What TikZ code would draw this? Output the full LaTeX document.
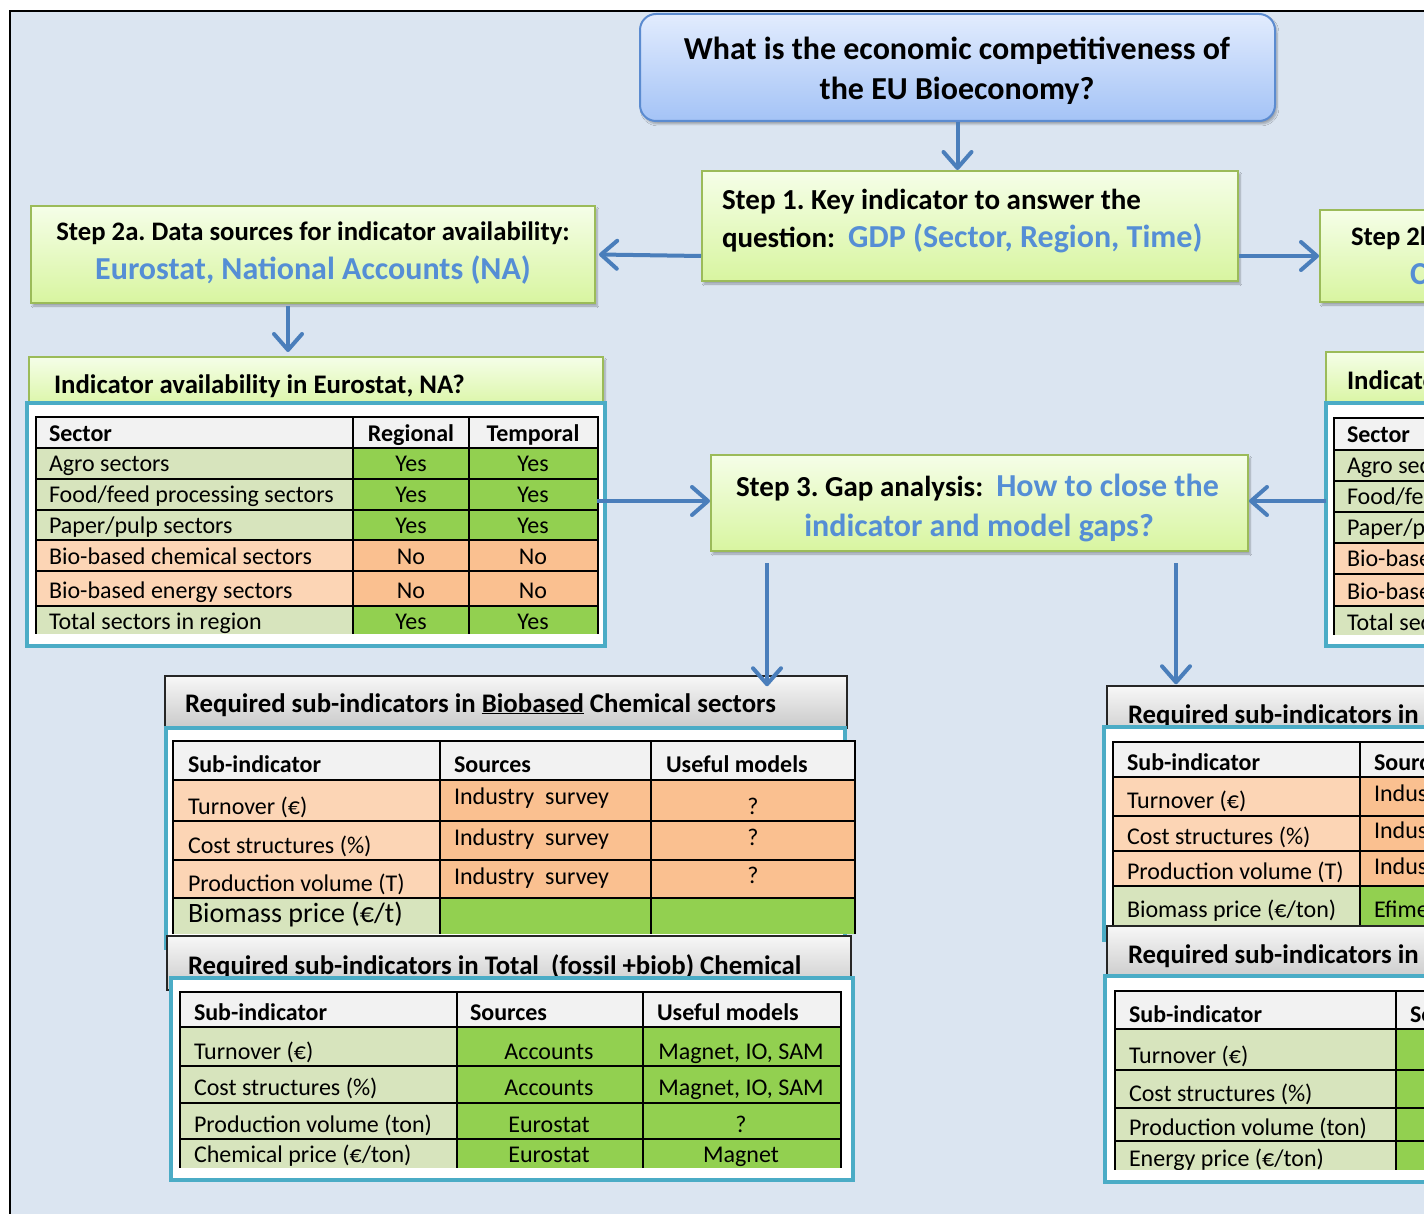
\documentclass[tikz,border=0pt]{standalone}
\usepackage{fontspec}
\setmainfont{Carlito}
\frenchspacing
\usetikzlibrary{arrows.meta,shadows.blur,calc}
\definecolor{bgblue}{HTML}{DBE5F1}
\definecolor{arrblue}{HTML}{4A7EBB}
\definecolor{txtblue}{HTML}{558ED5}
\definecolor{frameteal}{HTML}{4BACC6}
\definecolor{grnborder}{HTML}{9BBB59}
\definecolor{grntop}{HTML}{F5FEE8}
\definecolor{grnbot}{HTML}{D8F5A0}
\definecolor{qtop}{HTML}{E2ECFE}
\definecolor{qbot}{HTML}{A4C3F6}
\definecolor{qborder}{HTML}{5B8BD0}
\definecolor{lgreen}{HTML}{D7E4BD}
\definecolor{bgreen}{HTML}{92D050}
\definecolor{lorange}{HTML}{FCD5B5}
\definecolor{dorange}{HTML}{FAC090}
\definecolor{hdrgray}{HTML}{F2F2F2}
\definecolor{gtop}{HTML}{F7F7F7}
\definecolor{gbot}{HTML}{CACACA}
\newcommand\tabf{\fontsize{24}{28}\selectfont}
\newcommand\hdrf{\fontsize{26.8}{32}\selectfont\bfseries}
\newcommand\stepf{\fontsize{29}{34}\selectfont\bfseries}
\newcommand\steps{\fontsize{26.7}{32}\selectfont\bfseries}
\newcommand\bluef{\fontsize{32}{38}\selectfont\bfseries\color{txtblue}}
\newcommand\qf{\fontsize{32}{38}\selectfont\bfseries}
\tikzset{
 txt/.style={inner sep=0pt, outer sep=0pt},
 greenbox/.style={draw=grnborder, line width=2pt, top color=grntop, bottom color=grnbot,
   blur shadow={shadow xshift=2pt,shadow yshift=-3pt,shadow opacity=30,shadow blur steps=6}, inner sep=0pt},
 qbox/.style={draw=qborder, line width=2pt, top color=qtop, bottom color=qbot, rounded corners=16pt,
   blur shadow={shadow xshift=2pt,shadow yshift=-3pt,shadow opacity=30,shadow blur steps=6}, inner sep=0pt},
 graybox/.style={draw=black!85, line width=1.5pt, top color=gtop, bottom color=gbot, inner sep=0pt},
 tframe/.style={draw=frameteal, line width=4pt, fill=white, inner sep=0pt},
 arr/.style={draw=arrblue, line width=4pt, -{Straight Barb[length=16pt,width=28pt,round]}},
 grid/.style={draw=black, line width=2pt},
}
\begin{document}
\begin{tikzpicture}[x=1pt,y=-1pt]
\useasboundingbox (0,0) rectangle (1424,1214);
\clip (0,0) rectangle (1424,1214);
\fill[white] (0,0) rectangle (1424,1214);
\draw[fill=bgblue, line width=2pt] (10,11) rectangle (1440,1240);

% ---------- top question ----------
\node[qbox, minimum width=635pt, minimum height=107pt] (q) at (957.5,67.5) {};
\node[txt, anchor=base, font=\qf] (qt1) at (957,59.5) {What is the economic competitiveness of};
\node[txt, anchor=base, font=\qf] (qt2) at (957,99.5) {the EU Bioeconomy?};

% ---------- step boxes ----------
\node[greenbox, minimum width=536pt, minimum height=110pt] (step1) at (970,226) {};
\node[txt, anchor=base west, font=\stepf] (s1a) at (722,209.5) {Step 1. Key indicator to answer the};
\node[txt, anchor=base west, font=\stepf] (s1b) at (722,248) {question:~~{\bluef GDP (Sector, Region, Time)}};

\node[greenbox, minimum width=564pt, minimum height=97pt] (step2a) at (313,254.5) {};
\node[txt, anchor=base, font=\steps] (s2a1) at (313,241) {Step 2a. Data sources for indicator availability:};
\node[txt, anchor=base, font=\bluef] (s2a2) at (313,279.5) {Eurostat, National Accounts (NA)};

\node[greenbox, minimum width=300pt, minimum height=92pt] (step2b) at (1470,256) {};
\node[txt, anchor=base west, font=\steps] (s2b1) at (1351,246) {Step 2b. Data sources};
\node[txt, anchor=base west, font=\bluef] (s2b2) at (1410,284.5) {C};

\node[greenbox, minimum width=537pt, minimum height=96pt] (step3) at (979.5,503) {};
\node[txt, anchor=base west, font=\stepf] (s3a) at (736,496.5) {Step 3. Gap analysis:~~{\bluef How to close the}};
\node[txt, anchor=base, font=\bluef] (s3b) at (979,536) {indicator and model gaps?};

% ---------- left indicator table ----------
\node[greenbox, minimum width=574pt, minimum height=54pt] (indhdrL) at (316,384) {};
\node[txt, anchor=base west, font=\hdrf] (ihL) at (54,394) {Indicator availability in Eurostat, NA?};
\node[tframe, minimum width=578pt, minimum height=243pt] (indfrmL) at (315.5,524.5) {};
\begin{scope}
\clip (30,410) rectangle (602,633);
\fill[hdrgray] (36,417) rectangle (598,448);
\fill[lgreen] (36,448) rectangle (353,540);
\fill[bgreen] (353,448) rectangle (598,540);
\fill[lorange] (36,540) rectangle (353,606);
\fill[dorange] (353,540) rectangle (598,606);
\fill[lgreen] (36,606) rectangle (353,660);
\fill[bgreen] (353,606) rectangle (598,660);
\draw[grid] (36,417) rectangle (598,660);
\foreach \yy in {448,479,510,540,571,606} \draw[grid] (36,\yy) -- (598,\yy);
\foreach \xx in {353,469} \draw[grid] (\xx,417) -- (\xx,660);
\node[txt, anchor=base west, font=\tabf\bfseries] (iL0) at (49,441) {Sector};
\node[txt, anchor=base, font=\tabf\bfseries] (iL0b) at (411,441) {Regional};
\node[txt, anchor=base, font=\tabf\bfseries] (iL0c) at (533,441) {Temporal};
\node[txt, anchor=base west, font=\tabf] (iL1) at (49,471) {Agro sectors};
\node[txt, anchor=base, font=\tabf] (iL1b) at (411,471) {Yes};
\node[txt, anchor=base, font=\tabf] (iL1c) at (533,471) {Yes};
\node[txt, anchor=base west, font=\tabf] (iL2) at (49,502) {Food/feed processing sectors};
\node[txt, anchor=base, font=\tabf] (iL2b) at (411,502) {Yes};
\node[txt, anchor=base, font=\tabf] (iL2c) at (533,502) {Yes};
\node[txt, anchor=base west, font=\tabf] (iL3) at (49,533) {Paper/pulp sectors};
\node[txt, anchor=base, font=\tabf] (iL3b) at (411,533) {Yes};
\node[txt, anchor=base, font=\tabf] (iL3c) at (533,533) {Yes};
\node[txt, anchor=base west, font=\tabf] (iL4) at (49,564) {Bio-based chemical sectors};
\node[txt, anchor=base, font=\tabf] (iL4b) at (411,564) {No};
\node[txt, anchor=base, font=\tabf] (iL4c) at (533,564) {No};
\node[txt, anchor=base west, font=\tabf] (iL5) at (49,598) {Bio-based energy sectors};
\node[txt, anchor=base, font=\tabf] (iL5b) at (411,598) {No};
\node[txt, anchor=base, font=\tabf] (iL5c) at (533,598) {No};
\node[txt, anchor=base west, font=\tabf] (iL6) at (49,629) {Total sectors in region};
\node[txt, anchor=base, font=\tabf] (iL6b) at (411,629) {Yes};
\node[txt, anchor=base, font=\tabf] (iL6c) at (533,629) {Yes};
\end{scope}

% ---------- right indicator table ----------
\node[greenbox, minimum width=200pt, minimum height=54pt] (indhdrR) at (1426,379) {};
\node[txt, anchor=base west, font=\hdrf] (ihR) at (1347,389) {Indicator availability};
\node[tframe, minimum width=200pt, minimum height=243pt] (indfrmR) at (1426,524.5) {};
\begin{scope}
\clip (1328,410) rectangle (1424,634);
\fill[hdrgray] (1334,418) rectangle (1700,450);
\fill[lgreen] (1334,450) rectangle (1700,543);
\fill[lorange] (1334,543) rectangle (1700,606);
\fill[lgreen] (1334,606) rectangle (1700,660);
\draw[grid] (1334,418) rectangle (1700,660);
\foreach \yy in {450,481,512,543,574,606} \draw[grid] (1334,\yy) -- (1700,\yy);
\node[txt, anchor=base west, font=\tabf\bfseries] (iR0) at (1347,442) {Sector};
\node[txt, anchor=base west, font=\tabf] (iR1) at (1347,473) {Agro sectors};
\node[txt, anchor=base west, font=\tabf] (iR2) at (1347,504) {Food/feed processing sectors};
\node[txt, anchor=base west, font=\tabf] (iR3) at (1347,535) {Paper/pulp sectors};
\node[txt, anchor=base west, font=\tabf] (iR4) at (1347,566) {Bio-based chemical sectors};
\node[txt, anchor=base west, font=\tabf] (iR5) at (1347,599) {Bio-based energy sectors};
\node[txt, anchor=base west, font=\tabf] (iR6) at (1347,630) {Total sectors in region};
\end{scope}

% ---------- Biobased chemical block ----------
\node[graybox, minimum width=682pt, minimum height=52pt] (bioHdr) at (506,702) {};
\node[txt, anchor=base west, font=\hdrf] (bioT) at (185,712) {Required sub-indicators in \underline{Biobased} Chemical sectors};
\node[tframe, minimum width=679pt, minimum height=220pt] (bioFrm) at (505.5,838) {};
\begin{scope}
\clip (150,735) rectangle (870,933);
\fill[hdrgray] (173,741) rectangle (855,780);
\fill[lorange] (173,780) rectangle (440,898);
\fill[dorange] (440,780) rectangle (855,898);
\fill[lgreen] (173,898) rectangle (440,960);
\fill[bgreen] (440,898) rectangle (855,960);
\draw[grid] (173,741) rectangle (855,960);
\foreach \yy in {780,821,860,898} \draw[grid] (173,\yy) -- (855,\yy);
\foreach \xx in {440,651} \draw[grid] (\xx,741) -- (\xx,960);
\node[txt, anchor=base west, font=\tabf\bfseries] (b0a) at (188,772) {Sub-indicator};
\node[txt, anchor=base west, font=\tabf\bfseries] (b0b) at (454,772) {Sources};
\node[txt, anchor=base west, font=\tabf\bfseries] (b0c) at (666,772) {Useful models};
\node[txt, anchor=base west, font=\tabf] (b1a) at (188,814) {Turnover (€)};
\node[txt, anchor=base west, font=\tabf] (b1b) at (454,804) {Industry~~survey};
\node[txt, anchor=base, font=\tabf] (b1c) at (753,814) {?};
\node[txt, anchor=base west, font=\tabf] (b2a) at (188,853) {Cost structures (\%)};
\node[txt, anchor=base west, font=\tabf] (b2b) at (454,845) {Industry~~survey};
\node[txt, anchor=base, font=\tabf] (b2c) at (753,845) {?};
\node[txt, anchor=base west, font=\tabf] (b3a) at (188,891) {Production volume (T)};
\node[txt, anchor=base west, font=\tabf] (b3b) at (454,884) {Industry~~survey};
\node[txt, anchor=base, font=\tabf] (b3c) at (753,883) {?};
\node[txt, anchor=base west, font=\fontsize{28}{32}\selectfont] (b4a) at (188,922) {Biomass price (€/t)};
\end{scope}

% ---------- Total chemical block ----------
\node[graybox, minimum width=684pt, minimum height=54pt] (totHdr) at (509,963) {};
\node[txt, anchor=base west, font=\hdrf] (totT) at (188,974) {Required sub-indicators in Total~~(fossil +biob) Chemical};
\node[tframe, minimum width=682pt, minimum height=202pt] (totFrm) at (512,1079) {};
\begin{scope}
\clip (175,985) rectangle (850,1167);
\fill[hdrgray] (180,992) rectangle (841,1027);
\fill[lgreen] (180,1027) rectangle (457,1190);
\fill[bgreen] (457,1027) rectangle (841,1190);
\draw[grid] (180,992) rectangle (841,1190);
\foreach \yy in {1027,1066,1103,1139} \draw[grid] (180,\yy) -- (841,\yy);
\foreach \xx in {457,643} \draw[grid] (\xx,992) -- (\xx,1190);
\node[txt, anchor=base west, font=\tabf\bfseries] (t0a) at (194,1020) {Sub-indicator};
\node[txt, anchor=base west, font=\tabf\bfseries] (t0b) at (470,1020) {Sources};
\node[txt, anchor=base west, font=\tabf\bfseries] (t0c) at (657,1020) {Useful models};
\node[txt, anchor=base west, font=\tabf] (t1a) at (194,1059) {Turnover (€)};
\node[txt, anchor=base, font=\tabf] (t1b) at (549,1059) {Accounts};
\node[txt, anchor=base, font=\tabf] (t1c) at (741,1059) {Magnet, IO, SAM};
\node[txt, anchor=base west, font=\tabf] (t2a) at (194,1095) {Cost structures (\%)};
\node[txt, anchor=base, font=\tabf] (t2b) at (549,1095) {Accounts};
\node[txt, anchor=base, font=\tabf] (t2c) at (741,1095) {Magnet, IO, SAM};
\node[txt, anchor=base west, font=\tabf] (t3a) at (194,1132) {Production volume (ton)};
\node[txt, anchor=base, font=\tabf] (t3b) at (549,1132) {Eurostat};
\node[txt, anchor=base, font=\tabf] (t3c) at (741,1132) {?};
\node[txt, anchor=base west, font=\tabf] (t4a) at (194,1162) {Chemical price (€/ton)};
\node[txt, anchor=base, font=\tabf] (t4b) at (549,1162) {Eurostat};
\node[txt, anchor=base, font=\tabf] (t4c) at (741,1162) {Magnet};
\end{scope}

% ---------- right block 1 ----------
\node[graybox, minimum width=400pt, minimum height=54pt] (rHdr1) at (1307,713) {};
\node[txt, anchor=base west, font=\hdrf] (rT1) at (1128,723) {Required sub-indicators in};
\node[tframe, minimum width=400pt, minimum height=213pt] (rFrm1) at (1304,833.5) {};
\begin{scope}
\clip (1108,735) rectangle (1424,925);
\fill[hdrgray] (1113,742) rectangle (1700,777);
\fill[lorange] (1113,777) rectangle (1360,886);
\fill[dorange] (1360,777) rectangle (1700,886);
\fill[lgreen] (1113,886) rectangle (1360,940);
\fill[bgreen] (1360,886) rectangle (1700,940);
\draw[grid] (1113,742) rectangle (1700,940);
\foreach \yy in {777,816,851,886} \draw[grid] (1113,\yy) -- (1700,\yy);
\draw[grid] (1360,742) -- (1360,940);
\node[txt, anchor=base west, font=\tabf\bfseries] (r10a) at (1127,770) {Sub-indicator};
\node[txt, anchor=base west, font=\tabf\bfseries] (r10b) at (1374,770) {Sources};
\node[txt, anchor=base west, font=\tabf] (r11a) at (1127,808) {Turnover (€)};
\node[txt, anchor=base west, font=\tabf] (r11b) at (1374,801) {Industry~~survey};
\node[txt, anchor=base west, font=\tabf] (r12a) at (1127,844) {Cost structures (\%)};
\node[txt, anchor=base west, font=\tabf] (r12b) at (1374,838) {Industry~~survey};
\node[txt, anchor=base west, font=\tabf] (r13a) at (1127,879) {Production volume (T)};
\node[txt, anchor=base west, font=\tabf] (r13b) at (1374,874) {Industry~~survey};
\node[txt, anchor=base west, font=\tabf] (r14a) at (1127,917) {Biomass price (€/ton)};
\node[txt, anchor=base west, font=\tabf] (r14b) at (1374,917) {Efime};
\end{scope}

% ---------- right block 2 ----------
\node[graybox, minimum width=400pt, minimum height=54pt] (rHdr2) at (1307,953) {};
\node[txt, anchor=base west, font=\hdrf] (rT2) at (1128,963) {Required sub-indicators in};
\node[tframe, minimum width=400pt, minimum height=206pt] (rFrm2) at (1305,1079) {};
\begin{scope}
\clip (1108,985) rectangle (1424,1169);
\fill[hdrgray] (1115,991) rectangle (1700,1029);
\fill[lgreen] (1115,1029) rectangle (1396,1190);
\fill[bgreen] (1396,1029) rectangle (1700,1190);
\draw[grid] (1115,991) rectangle (1700,1190);
\foreach \yy in {1029,1070,1108,1141} \draw[grid] (1115,\yy) -- (1700,\yy);
\draw[grid] (1396,991) -- (1396,1190);
\node[txt, anchor=base west, font=\tabf\bfseries] (r20a) at (1129,1022) {Sub-indicator};
\node[txt, anchor=base west, font=\tabf\bfseries] (r20b) at (1410,1022) {Sources};
\node[txt, anchor=base west, font=\tabf] (r21a) at (1129,1063) {Turnover (€)};
\node[txt, anchor=base west, font=\tabf] (r22a) at (1129,1101) {Cost structures (\%)};
\node[txt, anchor=base west, font=\tabf] (r23a) at (1129,1135) {Production volume (ton)};
\node[txt, anchor=base west, font=\tabf] (r24a) at (1129,1166) {Energy price (€/ton)};
\end{scope}

% ---------- connectors ----------
\draw[arr] (q.south) -- (q.south |- step1.north);
\draw[arr] ([yshift=-30pt]step1.west) -- ([xshift=3pt]step2a.east);
\draw[arr] (step1.east |- step2b.west) -- (step2b.west);
\coordinate (a2s) at ($(step2a.south)+(-25,2)$);
\draw[arr] (a2s) -- ($(a2s |- indhdrL.north)+(0,-4)$);
\draw[arr] ($(indfrmL.east |- step3.west)+(-10,-2)$) -- ($(step3.west)+(0,-2)$);
\draw[arr] ($(indfrmR.west |- step3.east)+(2,-2)$) -- ($(step3.east)+(0,-2)$);
\coordinate (s3l) at ($(step3.south)+(-212.5,11)$);
\draw[arr] (s3l) -- ($(s3l |- bioHdr.north)+(0,11)$);
\coordinate (s3r) at ($(step3.south)+(196.5,11)$);
\draw[arr] (s3r) -- ($(s3r |- rHdr1.north)+(0,-1)$);
\end{tikzpicture}
\end{document}
